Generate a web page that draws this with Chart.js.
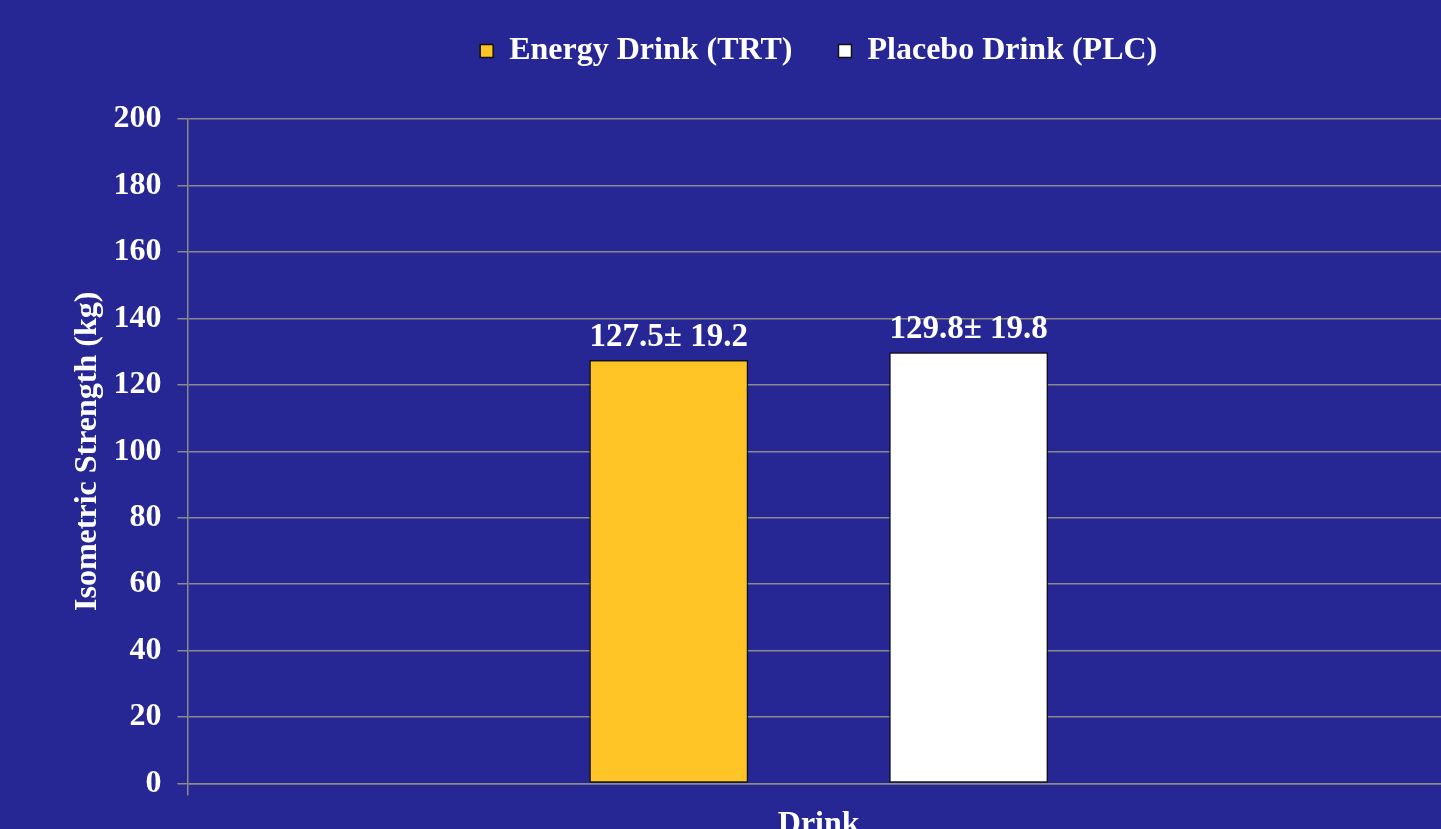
<!DOCTYPE html>
<html>
<head>
<meta charset="utf-8">
<script src="https://cdn.jsdelivr.net/npm/chart.js@4/dist/chart.umd.min.js"></script>
<style>
  html, body { margin:0; padding:0; background:#262695; overflow:hidden; }
  #wrap { position:absolute; left:0; top:0; width:1450px; height:850px; }
</style>
</head>
<body>
<div id="wrap"><canvas id="ch"></canvas></div>
<script>
'use strict';

// data
const categories = ['Drink'];
const seriesNames = ['Energy Drink (TRT)', 'Placebo Drink (PLC)'];
const means = [127.5, 129.8];
const sds = [19.2, 19.8];
const barColors = ['#ffc425', '#ffffff'];
const yTicks = [0, 20, 40, 60, 80, 100, 120, 140, 160, 180, 200];

const FONT = "'Liberation Serif', 'Times New Roman', serif";

// mean ± sd text above each bar
const sdLabels = {
  id: 'sdLabels',
  afterDatasetsDraw(chart) {
    const ctx = chart.ctx;
    ctx.save();
    ctx.fillStyle = '#ffffff';
    ctx.font = `bold 33px ${FONT}`;
    ctx.textAlign = 'center';
    ctx.textBaseline = 'alphabetic';
    chart.data.datasets.forEach((ds, i) => {
      const bar = chart.getDatasetMeta(i).data[0];
      ctx.fillText(`${means[i].toFixed(1)}\u00b1 ${sds[i].toFixed(1)}`, bar.x, bar.y - 14);
    });
    ctx.restore();
  }
};

// extra room under the legend, before the plot starts
const legendGap = {
  id: 'legendGap',
  afterInit(chart) {
    const lg = chart.legend;
    const fit = lg.fit;
    lg.fit = function() { fit.call(this); this.height += 42; };
  }
};

new Chart(document.getElementById('ch'), {
  type: 'bar',
  data: {
    labels: categories,
    datasets: seriesNames.map((n, i) => ({
      label: n,
      data: [means[i]],
      backgroundColor: barColors[i],
      borderColor: '#111111',
      borderWidth: 1.5,
      borderSkipped: false,
      categoryPercentage: 0.475,
      barPercentage: 0.53
    }))
  },
  options: {
    responsive: true,
    maintainAspectRatio: false,
    animation: false,
    layout: { padding: { top: -11, right: 0, bottom: -4, left: 69 } },
    plugins: {
      legend: {
        position: 'top',
        fullSize: false,
        labels: {
          color: '#ffffff',
          font: { family: FONT, size: 32, weight: 'bold' },
          boxWidth: 13, boxHeight: 13, padding: 46
        }
      },
      tooltip: { enabled: false }
    },
    scales: {
      x: {
        grid: { color: '#8a8a8a', lineWidth: 1.5, offset: true, tickLength: 12, drawOnChartArea: false },
        border: { color: '#8a8a8a', width: 1.5 },
        ticks: { color: '#ffffff', font: { family: FONT, size: 32, weight: 'bold' }, padding: 10 }
      },
      y: {
        min: 0, max: 200,
        afterBuildTicks: ax => { ax.ticks = yTicks.map(v => ({ value: v })); },
        grid: { color: '#8a8a8a', lineWidth: 1.5, tickLength: 10 },
        border: { color: '#8a8a8a', width: 1.5 },
        ticks: { color: '#ffffff', font: { family: FONT, size: 32, weight: 'bold' }, padding: 16 },
        title: {
          display: true, text: 'Isometric Strength (kg)', color: '#ffffff',
          font: { family: FONT, size: 32, weight: 'bold' }, padding: { top: 0, bottom: -10 }
        }
      }
    }
  },
  plugins: [sdLabels, legendGap]
});
</script>
</body>
</html>
